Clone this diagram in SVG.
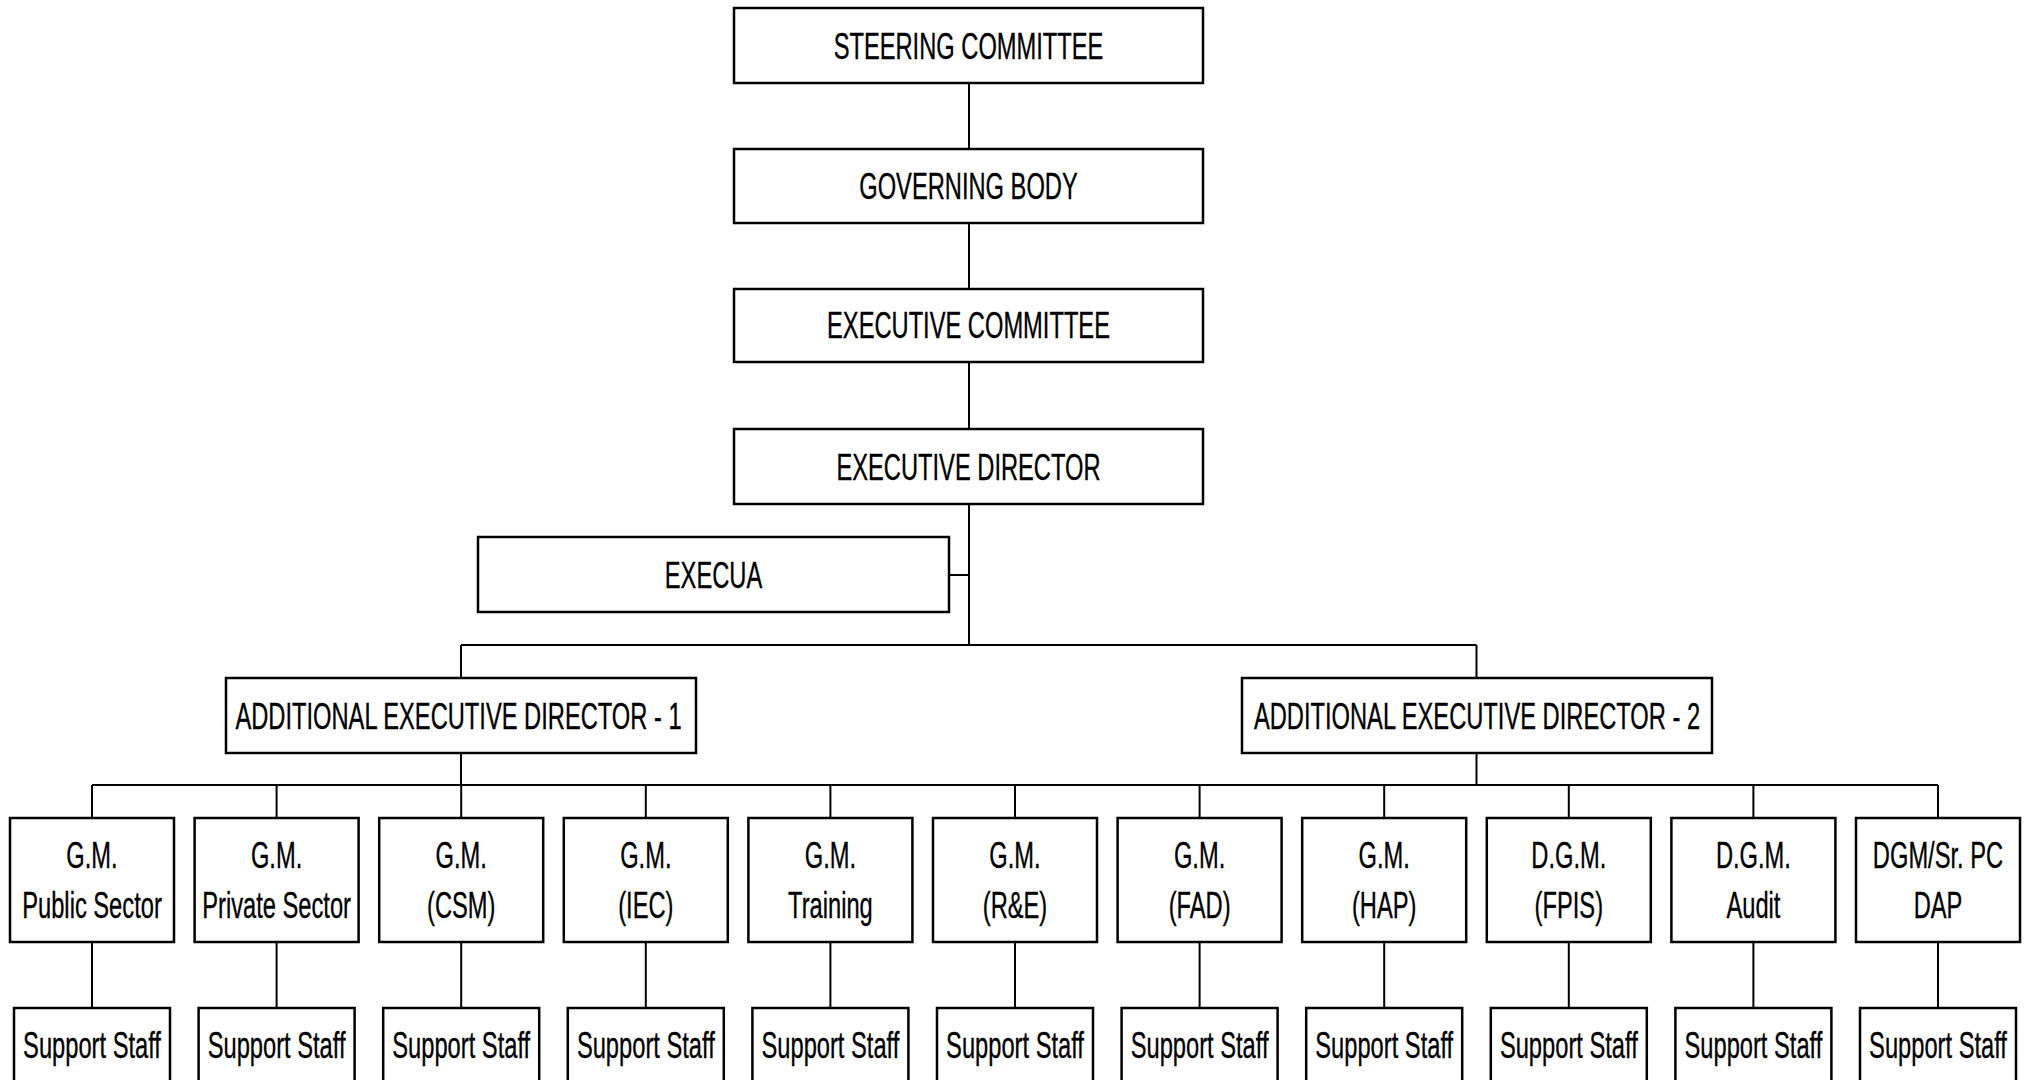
<svg xmlns="http://www.w3.org/2000/svg" width="2031" height="1080" viewBox="0 0 2031 1080">
  <style>
    .box { fill: #ffffff; stroke: #000000; stroke-width: 2.5; }
    .link { fill: none; stroke: #000000; stroke-width: 2; }
    .lbl { font-family: "Liberation Sans", Arial, sans-serif; font-size: 36px; fill: #000000; stroke: #000000; stroke-width: 0.35; text-anchor: middle; }
  </style>
  <rect width="2031" height="1080" fill="#ffffff"/>

  <!-- connectors -->
  <g id="connectors" class="link">
    <path d="M969 83 V149 M969 223 V289 M969 362 V429 M969 504 V645"/>
    <path d="M949 575 H969"/>
    <path d="M461 645 H1476.5 M461 645 V678 M1476.5 645 V678"/>
    <path d="M461 753 V785 M1476.5 753 V785"/>
    <path d="M92 785 H830.4 M830.4 785 H1938"/>
    <path d="M92 785 V818 M276.6 785 V818 M461.2 785 V818 M645.8 785 V818 M830.4 785 V818 M1015 785 V818 M1199.6 785 V818 M1384.2 785 V818 M1568.8 785 V818 M1753.4 785 V818 M1938 785 V818"/>
    <path d="M92 942 V1008 M276.6 942 V1008 M461.2 942 V1008 M645.8 942 V1008 M830.4 942 V1008 M1015 942 V1008 M1199.6 942 V1008 M1384.2 942 V1008 M1568.8 942 V1008 M1753.4 942 V1008 M1938 942 V1008"/>
  </g>

  <!-- top chain -->
  <g id="steering-committee">
    <rect class="box" x="734" y="8" width="469" height="75"/>
    <text class="lbl" transform="translate(968.5 58.5) scale(0.658 1)">STEERING COMMITTEE</text>
  </g>
  <g id="governing-body">
    <rect class="box" x="734" y="149" width="469" height="74"/>
    <text class="lbl" transform="translate(968.5 199) scale(0.658 1)">GOVERNING BODY</text>
  </g>
  <g id="executive-committee">
    <rect class="box" x="734" y="289" width="469" height="73"/>
    <text class="lbl" transform="translate(968.5 338) scale(0.658 1)">EXECUTIVE COMMITTEE</text>
  </g>
  <g id="executive-director">
    <rect class="box" x="734" y="429" width="469" height="75"/>
    <text class="lbl" transform="translate(968.5 479.5) scale(0.658 1)">EXECUTIVE DIRECTOR</text>
  </g>
  <g id="execua">
    <rect class="box" x="478" y="537" width="471" height="75"/>
    <text class="lbl" transform="translate(713.5 587.5) scale(0.658 1)">EXECUA</text>
  </g>

  <!-- additional executive directors -->
  <g id="aed-1">
    <rect class="box" x="226" y="678" width="470" height="75"/>
    <text class="lbl" transform="translate(458.5 729) scale(0.658 1)">ADDITIONAL EXECUTIVE DIRECTOR - 1</text>
  </g>
  <g id="aed-2">
    <rect class="box" x="1242" y="678" width="470" height="75"/>
    <text class="lbl" transform="translate(1477 729) scale(0.658 1)">ADDITIONAL EXECUTIVE DIRECTOR - 2</text>
  </g>

  <!-- heads of division -->
  <g id="gm-public-sector">
    <rect class="box" x="10" y="818" width="164" height="124"/>
    <text class="lbl" transform="translate(92 868) scale(0.658 1)">G.M.</text>
    <text class="lbl" transform="translate(92 918) scale(0.658 1)">Public Sector</text>
  </g>
  <g id="gm-private-sector">
    <rect class="box" x="194.6" y="818" width="164" height="124"/>
    <text class="lbl" transform="translate(276.6 868) scale(0.658 1)">G.M.</text>
    <text class="lbl" transform="translate(276.6 918) scale(0.658 1)">Private Sector</text>
  </g>
  <g id="gm-csm">
    <rect class="box" x="379.2" y="818" width="164" height="124"/>
    <text class="lbl" transform="translate(461.2 868) scale(0.658 1)">G.M.</text>
    <text class="lbl" transform="translate(461.2 918) scale(0.658 1)">(CSM)</text>
  </g>
  <g id="gm-iec">
    <rect class="box" x="563.8" y="818" width="164" height="124"/>
    <text class="lbl" transform="translate(645.8 868) scale(0.658 1)">G.M.</text>
    <text class="lbl" transform="translate(645.8 918) scale(0.658 1)">(IEC)</text>
  </g>
  <g id="gm-training">
    <rect class="box" x="748.4" y="818" width="164" height="124"/>
    <text class="lbl" transform="translate(830.4 868) scale(0.658 1)">G.M.</text>
    <text class="lbl" transform="translate(830.4 918) scale(0.658 1)">Training</text>
  </g>
  <g id="gm-re">
    <rect class="box" x="933" y="818" width="164" height="124"/>
    <text class="lbl" transform="translate(1015 868) scale(0.658 1)">G.M.</text>
    <text class="lbl" transform="translate(1015 918) scale(0.658 1)">(R&amp;E)</text>
  </g>
  <g id="gm-fad">
    <rect class="box" x="1117.6" y="818" width="164" height="124"/>
    <text class="lbl" transform="translate(1199.6 868) scale(0.658 1)">G.M.</text>
    <text class="lbl" transform="translate(1199.6 918) scale(0.658 1)">(FAD)</text>
  </g>
  <g id="gm-hap">
    <rect class="box" x="1302.2" y="818" width="164" height="124"/>
    <text class="lbl" transform="translate(1384.2 868) scale(0.658 1)">G.M.</text>
    <text class="lbl" transform="translate(1384.2 918) scale(0.658 1)">(HAP)</text>
  </g>
  <g id="dgm-fpis">
    <rect class="box" x="1486.8" y="818" width="164" height="124"/>
    <text class="lbl" transform="translate(1568.8 868) scale(0.658 1)">D.G.M.</text>
    <text class="lbl" transform="translate(1568.8 918) scale(0.658 1)">(FPIS)</text>
  </g>
  <g id="dgm-audit">
    <rect class="box" x="1671.4" y="818" width="164" height="124"/>
    <text class="lbl" transform="translate(1753.4 868) scale(0.658 1)">D.G.M.</text>
    <text class="lbl" transform="translate(1753.4 918) scale(0.658 1)">Audit</text>
  </g>
  <g id="dgm-dap">
    <rect class="box" x="1856" y="818" width="164" height="124"/>
    <text class="lbl" transform="translate(1938 868) scale(0.658 1)">DGM/Sr. PC</text>
    <text class="lbl" transform="translate(1938 918) scale(0.658 1)">DAP</text>
  </g>

  <!-- support staff -->
  <g id="staff-1"><rect class="box" x="14" y="1008" width="156" height="90"/><text class="lbl" transform="translate(92 1058) scale(0.658 1)">Support Staff</text></g>
  <g id="staff-2"><rect class="box" x="198.6" y="1008" width="156" height="90"/><text class="lbl" transform="translate(276.6 1058) scale(0.658 1)">Support Staff</text></g>
  <g id="staff-3"><rect class="box" x="383.2" y="1008" width="156" height="90"/><text class="lbl" transform="translate(461.2 1058) scale(0.658 1)">Support Staff</text></g>
  <g id="staff-4"><rect class="box" x="567.8" y="1008" width="156" height="90"/><text class="lbl" transform="translate(645.8 1058) scale(0.658 1)">Support Staff</text></g>
  <g id="staff-5"><rect class="box" x="752.4" y="1008" width="156" height="90"/><text class="lbl" transform="translate(830.4 1058) scale(0.658 1)">Support Staff</text></g>
  <g id="staff-6"><rect class="box" x="937" y="1008" width="156" height="90"/><text class="lbl" transform="translate(1015 1058) scale(0.658 1)">Support Staff</text></g>
  <g id="staff-7"><rect class="box" x="1121.6" y="1008" width="156" height="90"/><text class="lbl" transform="translate(1199.6 1058) scale(0.658 1)">Support Staff</text></g>
  <g id="staff-8"><rect class="box" x="1306.2" y="1008" width="156" height="90"/><text class="lbl" transform="translate(1384.2 1058) scale(0.658 1)">Support Staff</text></g>
  <g id="staff-9"><rect class="box" x="1490.8" y="1008" width="156" height="90"/><text class="lbl" transform="translate(1568.8 1058) scale(0.658 1)">Support Staff</text></g>
  <g id="staff-10"><rect class="box" x="1675.4" y="1008" width="156" height="90"/><text class="lbl" transform="translate(1753.4 1058) scale(0.658 1)">Support Staff</text></g>
  <g id="staff-11"><rect class="box" x="1860" y="1008" width="156" height="90"/><text class="lbl" transform="translate(1938 1058) scale(0.658 1)">Support Staff</text></g>
</svg>
